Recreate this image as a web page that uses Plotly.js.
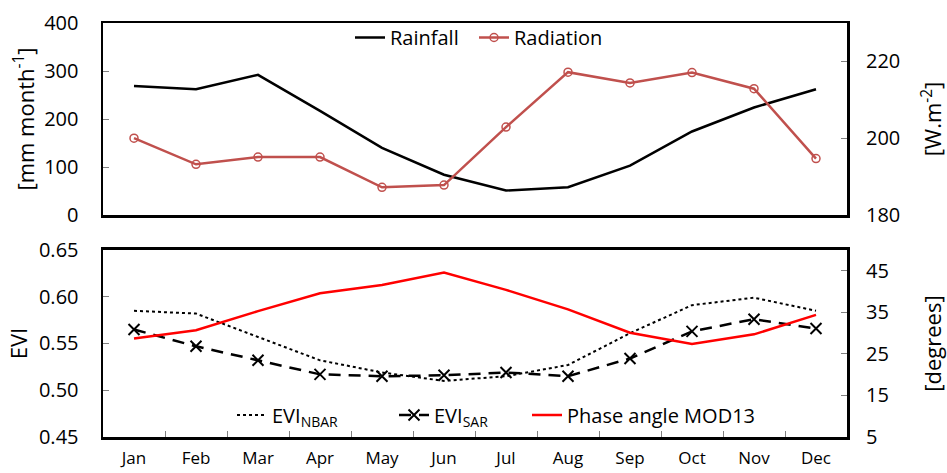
<!DOCTYPE html>
<html>
<head>
<meta charset="utf-8">
<script src="https://cdn.plot.ly/plotly-3.0.1.min.js"></script>
<style>html,body{margin:0;padding:0;background:#fff;}#chart{width:947px;height:473px;}</style>
</head>
<body>
<div id="chart"></div>
<script>
var months = ['Jan','Feb','Mar','Apr','May','Jun','Jul','Aug','Sep','Oct','Nov','Dec'];
var rainfall = [269, 262, 292, 217, 140, 84, 51, 58, 103, 174, 224, 262];
var radiation = [200.0, 193.2, 195.1, 195.1, 187.2, 187.8, 202.9, 217.2, 214.4, 217.1, 212.9, 194.7];
var eviNbar = [0.585, 0.582, 0.557, 0.532, 0.519, 0.510, 0.515, 0.527, 0.561, 0.591, 0.599, 0.585];
var eviSar = [0.565, 0.547, 0.532, 0.517, 0.515, 0.516, 0.519, 0.515, 0.534, 0.563, 0.576, 0.566];
var phaseAngle = [28.7, 30.7, 35.3, 39.6, 41.6, 44.6, 40.4, 35.7, 30.1, 27.4, 29.7, 34.4];

var FONT = 'Open Sans, Noto Sans, sans-serif';
var TXT = {family: FONT, size: 20, color: '#000'};
var TTL = {family: FONT, size: 22, color: '#000'};

var traces = [
  {x: months, y: rainfall, xaxis: 'x', yaxis: 'y', name: 'Rainfall', type: 'scatter', mode: 'lines',
   line: {color: '#000000', width: 2.5}, legend: 'legend'},
  {x: months, y: radiation, xaxis: 'x', yaxis: 'y2', name: 'Radiation', type: 'scatter', mode: 'lines+markers',
   line: {color: '#c0504d', width: 2.5},
   marker: {symbol: 'circle-open', size: 8, color: '#c0504d', line: {width: 1.5, color: '#c0504d'}}, legend: 'legend2'},
  {x: months, y: eviNbar, xaxis: 'x2', yaxis: 'y3', name: 'EVI<sub>NBAR</sub>', type: 'scatter', mode: 'lines',
   line: {color: '#000000', width: 2, dash: 'dot'}, legend: 'legend3'},
  {x: months, y: eviSar, xaxis: 'x2', yaxis: 'y3', name: 'EVI<sub>SAR</sub>', type: 'scatter', mode: 'lines+markers',
   line: {color: '#000000', width: 2.5, dash: '12px,8px'},
   marker: {symbol: 'x-thin', size: 11, color: '#000', line: {width: 2, color: '#000'}}, legend: 'legend4'},
  {x: months, y: phaseAngle, xaxis: 'x2', yaxis: 'y4', name: 'Phase angle MOD13', type: 'scatter', mode: 'lines',
   line: {color: '#ff0000', width: 2.5}, legend: 'legend5'}
];

var frameAx = {showline: true, linecolor: '#000', linewidth: 2.5, mirror: true, showgrid: false, zeroline: false};

function leg(xpx, ypx) {
  return {orientation: 'h', x: (xpx - 103) / 744, xanchor: 'left', y: (437 - ypx) / 414, yanchor: 'middle',
    bgcolor: 'rgba(0,0,0,0)', font: TXT, itemwidth: 30};
}

var layout = {
  width: 947, height: 473,
  margin: {l: 103, r: 100, t: 23, b: 36},
  paper_bgcolor: '#fff', plot_bgcolor: '#fff',
  font: TXT,
  showlegend: true,
  xaxis: Object.assign({}, frameAx, {domain: [0, 1], anchor: 'y', type: 'category', range: [-0.5, 11.5],
    showticklabels: false, ticks: ''}),
  xaxis2: Object.assign({}, frameAx, {domain: [0, 1], anchor: 'y3', type: 'category', range: [-0.5, 11.5],
    ticks: 'inside', tickson: 'boundaries', ticklen: 6, tickcolor: '#808080', tickwidth: 1,
    tickfont: {family: FONT, size: 17, color: '#000'}, ticklabelstandoff: 4}),
  yaxis: Object.assign({}, frameAx, {domain: [0.5362, 1], anchor: 'x', range: [0, 400], tickvals: [0, 100, 200, 300, 400],
    ticks: 'inside', ticklen: 6, tickcolor: '#808080', tickwidth: 1, tickfont: TXT, ticklabelstandoff: 18,
    title: {text: '[mm month<sup>-1</sup>]', font: TTL, standoff: 4}}),
  yaxis2: {domain: [0.5362, 1], anchor: 'x', overlaying: 'y', side: 'right', range: [180, 230], tickvals: [180, 200, 220],
    showline: false, showgrid: false, zeroline: false,
    ticks: 'inside', ticklen: 6, tickcolor: '#808080', tickwidth: 1, tickfont: TXT, ticklabelstandoff: 18,
    title: {text: '[W.m<sup>-2</sup>]', font: TTL, standoff: 26}},
  yaxis3: Object.assign({}, frameAx, {domain: [0, 0.4517], anchor: 'x2', range: [0.45, 0.65], tickvals: [0.45, 0.50, 0.55, 0.60, 0.65],
    tickformat: '.2f', ticks: 'inside', ticklen: 6, tickcolor: '#808080', tickwidth: 1, tickfont: TXT, ticklabelstandoff: 18,
    title: {text: 'EVI', font: TTL, standoff: 5}}),
  yaxis4: {domain: [0, 0.4517], anchor: 'x2', overlaying: 'y3', side: 'right', range: [5, 50], tickvals: [5, 15, 25, 35, 45],
    showline: false, showgrid: false, zeroline: false,
    ticks: 'inside', ticklen: 6, tickcolor: '#808080', tickwidth: 1, tickfont: TXT, ticklabelstandoff: 18,
    title: {text: '[degrees]', font: TTL, standoff: 38}},
  legend: leg(350, 37.5),
  legend2: leg(474, 37.5),
  legend3: leg(232, 415),
  legend4: leg(394, 415),
  legend5: leg(527, 415)
};

Plotly.newPlot('chart', traces, layout, {displayModeBar: false, staticPlot: true});
</script>
</body>
</html>
